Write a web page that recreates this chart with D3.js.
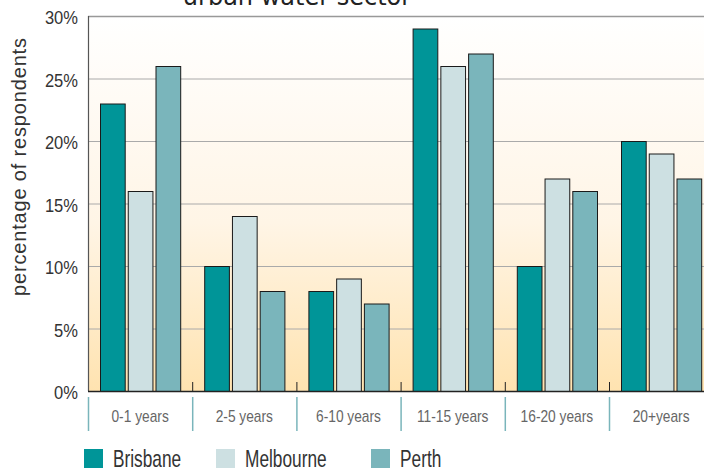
<!DOCTYPE html>
<html>
<head>
<meta charset="utf-8">
<script src="https://cdn.jsdelivr.net/npm/d3@7"></script>
<style>
  body { margin: 0; background: #fff; }
  svg { display: block; }
</style>
</head>
<body>
<div id="chart"></div>
<script>
const categories = ["0-1 years", "2-5 years", "6-10 years", "11-15 years", "16-20 years", "20+years"]
const cities = ["Brisbane", "Melbourne", "Perth"]
const brisbane = [23, 10, 8, 29, 10, 20]
const melbourne = [16, 14, 9, 26, 17, 19]
const perth = [26, 8, 7, 27, 16, 17]
const yTicks = [0, 5, 10, 15, 20, 25, 30]
const colors = ["#009598", "#cde0e2", "#7ab5bb"]

const series = [brisbane, melbourne, perth]

const width = 704, height = 468
const margin = {left: 88, top: 16, bottom: 77}
const plotRight = margin.left + 104.2 * categories.length
const sans = "'Liberation Sans', Arial, sans-serif"

const svg = d3.select("#chart").append("svg")
    .attr("width", width)
    .attr("height", height)

const x = d3.scaleBand()
    .domain(categories)
    .range([margin.left, plotRight])

const inner = d3.scaleBand()
    .domain(cities)
    .range([12, x.bandwidth() - 12])
    .paddingInner(0.11)

const y = d3.scaleLinear()
    .domain([0, 30])
    .range([height - margin.bottom, margin.top])

// background gradient
const grad = svg.append("defs").append("linearGradient")
    .attr("id", "bg").attr("x1", 0).attr("y1", 0).attr("x2", 0).attr("y2", 1)
grad.append("stop").attr("offset", "0%").attr("stop-color", "#ffffff")
grad.append("stop").attr("offset", "55%").attr("stop-color", "#fff5e6")
grad.append("stop").attr("offset", "100%").attr("stop-color", "#ffe3b0")

svg.append("rect")
    .attr("x", margin.left)
    .attr("y", y(30))
    .attr("width", plotRight - margin.left)
    .attr("height", y(0) - y(30))
    .attr("fill", "url(#bg)")

// gridlines
svg.append("g").selectAll("line")
    .data(yTicks.filter(d => d > 0))
    .join("line")
    .attr("x1", margin.left)
    .attr("x2", plotRight)
    .attr("y1", d => y(d) + 0.5)
    .attr("y2", d => y(d) + 0.5)
    .attr("stroke", d => d === 30 ? "#999" : "#aaa")
    .attr("stroke-width", d => d === 30 ? 1.5 : 1)

// bars
const groups = svg.append("g").selectAll("g")
    .data(categories)
    .join("g")
    .attr("transform", d => `translate(${x(d)},0)`)

groups.selectAll("rect")
    .data((c, i) => cities.map((city, k) => ({city: city, value: series[k][i], k: k})))
    .join("rect")
    .attr("x", d => inner(d.city) + 0.5)
    .attr("y", d => y(d.value) + 0.5)
    .attr("width", inner.bandwidth())
    .attr("height", d => y(0) - y(d.value))
    .attr("fill", d => colors[d.k])
    .attr("stroke", "#1a1a1a")
    .attr("stroke-width", 1)

// axes lines
svg.append("line")
    .attr("x1", margin.left + 0.5).attr("x2", margin.left + 0.5)
    .attr("y1", y(30)).attr("y2", y(0))
    .attr("stroke", "#555").attr("stroke-width", 1.2)

svg.append("line")
    .attr("x1", margin.left).attr("x2", plotRight)
    .attr("y1", y(0) + 0.5).attr("y2", y(0) + 0.5)
    .attr("stroke", "#222").attr("stroke-width", 1.5)

// small ticks between groups
const bounds = categories.map(c => x(c)).concat([plotRight])
svg.append("g").selectAll("line")
    .data(bounds.slice(1))
    .join("line")
    .attr("x1", d => d + 0.5).attr("x2", d => d + 0.5)
    .attr("y1", y(0) - 9).attr("y2", y(0))
    .attr("stroke", "#222")

// separators below axis
svg.append("g").selectAll("line")
    .data(bounds)
    .join("line")
    .attr("x1", d => d + 0.5).attr("x2", d => d + 0.5)
    .attr("y1", y(0) + 6).attr("y2", y(0) + 40)
    .attr("stroke", "#7ab5bb").attr("stroke-width", 1.5)

// category labels (condensed)
svg.append("g").selectAll("text")
    .data(categories)
    .join("text")
    .attr("transform", d => `translate(${x(d) + x.bandwidth() / 2},${y(0) + 31}) scale(0.86,1)`)
    .attr("text-anchor", "middle")
    .attr("font-family", sans)
    .attr("font-size", 16)
    .attr("fill", "#666")
    .text(d => d)

// y tick labels
svg.append("g").selectAll("text")
    .data(yTicks)
    .join("text")
    .attr("transform", d => `translate(78,${y(d) + 8}) scale(0.87,1)`)
    .attr("text-anchor", "end")
    .attr("font-family", sans)
    .attr("font-size", 19)
    .attr("fill", "#333")
    .text(d => d + "%")

// y axis title
svg.append("text")
    .attr("transform", "translate(26,167) rotate(-90)")
    .attr("text-anchor", "middle")
    .attr("font-family", sans)
    .attr("font-size", 20)
    .attr("textLength", 258)
    .attr("lengthAdjust", "spacing")
    .attr("fill", "#333")
    .text("percentage of respondents")

// chart title (cut off at the top)
svg.append("text")
    .attr("x", 297)
    .attr("y", 5)
    .attr("text-anchor", "middle")
    .attr("font-family", "'DejaVu Sans', sans-serif")
    .attr("font-size", 24)
    .attr("fill", "#222")
    .text("urban water sector")

// legend
const legendX = [84, 216, 371]
const legend = svg.append("g").selectAll("g")
    .data(cities)
    .join("g")
    .attr("transform", (d, i) => `translate(${legendX[i]},449)`)

legend.append("rect")
    .attr("width", 19)
    .attr("height", 19)
    .attr("fill", (d, i) => colors[i])

legend.append("text")
    .attr("transform", "translate(29,17.5) scale(0.72,1)")
    .attr("font-family", sans)
    .attr("font-size", 24)
    .attr("fill", "#333")
    .text(d => d)
</script>
</body>
</html>
